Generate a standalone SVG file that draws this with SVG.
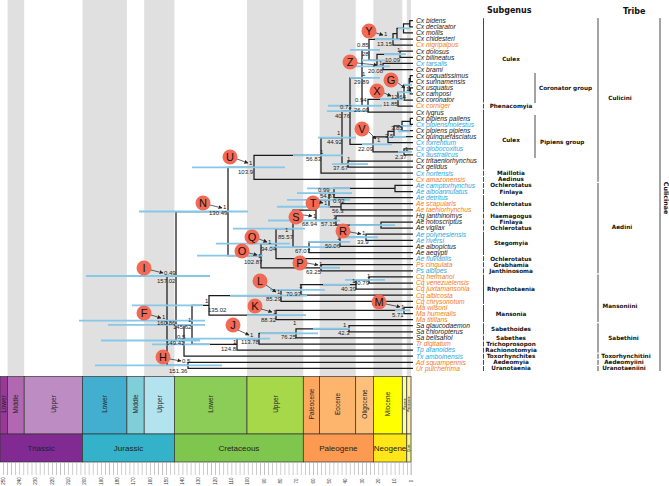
<svg xmlns="http://www.w3.org/2000/svg" width="669" height="486" viewBox="0 0 669 486">
<defs>
<style>
.tip{font-family:"Liberation Sans",Arial,sans-serif;font-style:italic;font-size:6.7px}
.k{fill:#1a1a1a}.o{fill:#F47D20}.b{fill:#2AA9DF}
.nl{font-family:"Liberation Sans",Arial,sans-serif;font-size:6px;fill:#1a1a1a}
.br{stroke:#1a1a1a;stroke-width:1.25;fill:none}
.hpd{stroke:#86C8E8;stroke-width:1.8;fill:none}
.sg{font-family:"DejaVu Sans",sans-serif;font-weight:bold;font-size:5.7px;fill:#111;text-anchor:middle}
.sgl{font-family:"DejaVu Sans",sans-serif;font-weight:bold;font-size:5.7px;fill:#111}
.hd{font-family:"DejaVu Sans",sans-serif;font-weight:bold;font-size:8px;fill:#111}
.bk{stroke:#333;stroke-width:0.9;fill:none}
.circ{fill:#F26A55}
.cl{font-family:"Liberation Sans",Arial,sans-serif;font-size:11px;fill:#111;text-anchor:middle}
.arr{stroke:#222;stroke-width:0.7;fill:none}
.ep{font-family:"Liberation Sans",Arial,sans-serif;font-size:6.5px;fill:#222;text-anchor:middle}
.pe{font-family:"Liberation Sans",Arial,sans-serif;font-size:8px;fill:#222;text-anchor:middle}
.cell{stroke:#333;stroke-width:0.7}
.tl{font-family:"Liberation Sans",Arial,sans-serif;font-size:4.5px;fill:#333;text-anchor:middle}
</style>
<marker id="ah" markerWidth="4" markerHeight="4" refX="3.5" refY="2" orient="auto" markerUnits="userSpaceOnUse"><path d="M0,0 L4,2 L0,4 z" fill="#222"/></marker>
<pattern id="tk" x="411" y="0" width="4.08" height="20" patternUnits="userSpaceOnUse"><rect x="0" y="0" width="0.6" height="20" fill="#aaa"/></pattern>
</defs>
<rect width="669" height="486" fill="#fff"/>
<g id="stripes" fill="#E0E0E0">
<rect x="7.6" y="0" width="16.6" height="376.5"/>
<rect x="82.5" y="0" width="44.4" height="376.5"/>
<rect x="144.2" y="0" width="30.2" height="376.5"/>
<rect x="247" y="0" width="56.3" height="376.5"/>
<rect x="319.6" y="0" width="36.1" height="376.5"/>
<rect x="373.4" y="0" width="28.9" height="376.5"/>
<rect x="406.8" y="0" width="4.2" height="376.5"/>
</g>
<g id="connectors" class="br">
<path d="M413 20.7H409.8V26.8H413"/>
<path d="M409.8 23.75H403.5V32.9H413"/>
<path d="M403.5 28.33H397V39H413"/>
<path d="M397 33.66H393V45.1H413"/>
<path d="M413 51.2H400V57.3H413"/>
<path d="M413 63.4H383V69.5H413"/>
<path d="M400 54.25H377V66.45H383"/>
<path d="M393 39.38H369V60.35H377"/>
<path d="M413 75.6H410.3V81.7H413"/>
<path d="M413 87.8H410.3V93.9H413"/>
<path d="M410.3 78.65H409.2V90.85H410.3"/>
<path d="M409.2 84.75H404V100H413"/>
<path d="M404 92.4H398V106.1H413"/>
<path d="M398 99.25H368V112.2H413"/>
<path d="M369 49.87H362V105.73H368"/>
<path d="M413 118.3H410.3V124.4H413"/>
<path d="M410.3 121.35H402V130.5H413"/>
<path d="M402 125.93H394V136.6H413"/>
<path d="M394 131.26H388V142.7H413"/>
<path d="M413 148.8H404V154.9H413"/>
<path d="M388 136.98H373V151.85H404"/>
<path d="M362 77.8H350V144.42H373"/>
<path d="M413 161H348V167.1H413"/>
<path d="M350 111.11H342V164.05H348"/>
<path d="M342 137.58H321V173.2H413"/>
<path d="M321 155.39H254V179.3H413"/>
<path d="M413 185.4H395V191.5H413"/>
<path d="M395 188.45H334V197.6H413"/>
<path d="M413 203.7H341V209.8H413"/>
<path d="M334 193.03H329V206.75H341"/>
<path d="M413 222H381V228.1H413"/>
<path d="M413 215.9H336V225.05H381"/>
<path d="M329 199.89H316V220.48H336"/>
<path d="M413 234.2H366V240.3H413"/>
<path d="M366 237.25H340V246.4H413"/>
<path d="M340 241.83H309V252.5H413"/>
<path d="M316 210.18H293V247.16H309"/>
<path d="M293 228.67H276V258.6H413"/>
<path d="M413 264.7H321V270.8H413"/>
<path d="M276 243.64H261V267.75H321"/>
<path d="M254 167.35H228V255.7H261"/>
<path d="M413 276.9H369V283H413"/>
<path d="M369 279.95H356V289.1H413"/>
<path d="M356 284.53H301V295.2H413"/>
<path d="M301 289.86H281V301.3H413"/>
<path d="M413 307.4H404V313.5H413"/>
<path d="M404 310.45H276V319.6H413"/>
<path d="M281 295.58H209V315.03H276"/>
<path d="M413 325.7H349V331.8H413"/>
<path d="M349 328.75H296V337.9H413"/>
<path d="M296 333.33H259V344H413"/>
<path d="M259 338.66H237V350.1H413"/>
<path d="M209 305.3H192V344.38H237"/>
<path d="M192 324.84H184V356.2H413"/>
<path d="M228 211.52H176V340.52H184"/>
<path d="M413 362.3H188V368.4H413"/>
<path d="M176 276.02H167V365.35H188"/>
<path d="M167 320.69H163"/>
</g>
<g id="hpd" class="hpd">
<path d="M398 28.33H410M375 39.38H400M384 54.25H406M350 49.87H380M355 66.45H390M362 60.35H386M350 77.8H380M403 84.75H412M398 92.4H412M380 99.25H404M328 105.73H382M327 111.11H367"/>
<path d="M400 125.93H412M398 131.26H410M388 136.98H406M362 144.42H392M398 151.85H412M318 137.58H356M293 155.39H343M332 164.05H368M192 167.35H285"/>
<path d="M307 188.45H350M297 193.03H352M287 199.89H350M277 206.75H330M139 211.52H248M268 220.48H340M350 225.05H395M233 228.67H305M345 237.25H378M308 241.83H350M216 243.64H290M270 247.16H335M197 255.7H263M320 267.75H340"/>
<path d="M86 276.02H210M345 279.95H385M323 284.53H350M270 289.86H325M230 295.58H307M132 305.3H203M395 310.45H410M247 315.03H306M79 320.69H205M108 324.84H205M313 328.75H350M260 333.33H318M180 338.66H270M101 340.52H200M152 344.38H210M95 365.35H222"/>
</g>
<g id="tips" class="tip">
<text x="416" y="23" class="k">Cx bidens</text>
<text x="416" y="29.1" class="k">Cx declarator</text>
<text x="416" y="35.2" class="k">Cx mollis</text>
<text x="416" y="41.3" class="k">Cx chidesteri</text>
<text x="416" y="47.4" class="o">Cx nigripalpus</text>
<text x="416" y="53.5" class="k">Cx dolosus</text>
<text x="416" y="59.6" class="k">Cx bilineatus</text>
<text x="416" y="65.7" class="b">Cx tarsalis</text>
<text x="416" y="71.8" class="k">Cx brami</text>
<text x="416" y="77.9" class="k">Cx usquatissimus</text>
<text x="416" y="84" class="k">Cx surinamensis</text>
<text x="416" y="90.1" class="k">Cx usquatus</text>
<text x="416" y="96.2" class="k">Cx camposi</text>
<text x="416" y="102.3" class="k">Cx coronator</text>
<text x="416" y="108.4" class="o">Cx corniger</text>
<text x="416" y="114.5" class="k">Cx lygrus</text>
<text x="416" y="120.6" class="k">Cx pipiens pallens</text>
<text x="416" y="126.7" class="b">Cx pipiensmolestus</text>
<text x="416" y="132.8" class="k">Cx pipiens pipiens</text>
<text x="416" y="138.9" class="k">Cx quinquefasciatus</text>
<text x="416" y="145" class="b">Cx torrentium</text>
<text x="416" y="151.1" class="b">Cx globocoxitus</text>
<text x="416" y="157.2" class="b">Cx australicus</text>
<text x="416" y="163.3" class="k">Cx tritaeniorhynchus</text>
<text x="416" y="169.4" class="k">Cx gelidus</text>
<text x="416" y="175.5" class="b">Cx hortensis</text>
<text x="416" y="181.6" class="o">Cx amazonensis</text>
<text x="416" y="187.7" class="b">Ae camptorhynchus</text>
<text x="416" y="193.8" class="b">Ae alboannulatus</text>
<text x="416" y="199.9" class="b">Ae detritus</text>
<text x="416" y="206" class="o">Ae scapularis</text>
<text x="416" y="212.1" class="o">Ae taeniorhynchus</text>
<text x="416" y="218.2" class="k">Hg janthinomys</text>
<text x="416" y="224.3" class="k">Ae notoscriptus</text>
<text x="416" y="230.4" class="k">Ae vigilax</text>
<text x="416" y="236.5" class="b">Ae polynesiensis</text>
<text x="416" y="242.6" class="b">Ae riversi</text>
<text x="416" y="248.7" class="k">Ae albopictus</text>
<text x="416" y="254.8" class="k">Ae aegypti</text>
<text x="416" y="260.9" class="b">Ae fluviatilis</text>
<text x="416" y="267" class="o">Ps cingulata</text>
<text x="416" y="273.1" class="b">Ps albipes</text>
<text x="416" y="279.2" class="o">Cq hermanoi</text>
<text x="416" y="285.3" class="o">Cq venezuelensis</text>
<text x="416" y="291.4" class="o">Cq juxtamansonia</text>
<text x="416" y="297.5" class="o">Cq albicosta</text>
<text x="416" y="303.6" class="o">Cq chrysonotum</text>
<text x="416" y="309.7" class="o">Ma wilsoni</text>
<text x="416" y="315.8" class="o">Ma humeralis</text>
<text x="416" y="321.9" class="o">Ma titillans</text>
<text x="416" y="328" class="k">Sa glaucodaemon</text>
<text x="416" y="334.1" class="k">Sa chloropterus</text>
<text x="416" y="340.2" class="k">Sa bellsariol</text>
<text x="416" y="346.3" class="o">Tr digitatum</text>
<text x="416" y="352.4" class="b">Tp aranoides</text>
<text x="416" y="358.5" class="b">Tx amboinensis</text>
<text x="416" y="364.6" class="o">Ad squampennis</text>
<text x="416" y="370.7" class="o">Ur pulcherrima</text>
</g>
<g id="nodelabels" class="nl">
<text x="384" y="36">1</text><text x="377" y="45.5">13.15</text>
<text x="357" y="47">0.85</text><text x="362" y="55.5">28</text>
<text x="397" y="52">1</text><text x="385" y="61.5">10.09</text>
<text x="379" y="65">1</text><text x="368" y="72.5">20.08</text>
<text x="362" y="75.5">1</text><text x="354" y="84">29.89</text>
<text x="406" y="91">1</text><text x="391" y="98.5">12.64</text>
<text x="355" y="102">0.94</text><text x="383" y="106">11.85</text>
<text x="340" y="109">0.73</text><text x="354" y="111.5">26.09</text><text x="335" y="117.5">40.76</text>
<text x="391" y="130">3.85</text><text x="385" y="137.5">3.5</text>
<text x="337" y="134.5">1</text><text x="327" y="144">44.92</text>
<text x="377" y="142">1</text><text x="358" y="150.5">22.09</text>
<text x="405" y="150.5">1</text><text x="395" y="159">2.37</text>
<text x="320" y="153.5">1</text><text x="306" y="161">56.83</text>
<text x="347" y="161">1</text><text x="333" y="170">37.67</text>
<text x="249" y="165">1</text><text x="238" y="174">103.9</text>
<text x="318" y="192">0.99</text><text x="320" y="198">54.87</text>
<text x="333" y="203">0.92</text><text x="324" y="205">1</text><text x="332" y="213">56.3</text>
<text x="313" y="218">1</text><text x="333" y="219">1</text>
<text x="302" y="226">68.94</text><text x="321" y="226">57.15</text>
<text x="223" y="209">1</text><text x="209" y="215">130.49</text>
<text x="362" y="235">1</text><text x="357" y="244">33.9</text>
<text x="337" y="240">1</text><text x="325" y="248">50.06</text>
<text x="295" y="253">67.07</text>
<text x="285" y="232">1</text><text x="278" y="239">85.57</text>
<text x="268" y="244">1</text><text x="261" y="250.5">94.04</text>
<text x="258" y="257.5">1</text><text x="244" y="263.5">102.87</text>
<text x="319" y="266">1</text><text x="306" y="274">63.25</text>
<text x="367" y="278">1</text><text x="354" y="285">50.79</text>
<text x="352" y="283">1</text><text x="341" y="291">40.39</text>
<text x="299" y="288">1</text><text x="286" y="296">70.97</text>
<text x="277" y="294">1</text><text x="266" y="301">85.29</text>
<text x="401" y="309">1</text><text x="392" y="317">5.71</text>
<text x="205" y="303">1</text><text x="208" y="312">135.02</text>
<text x="273" y="314">1</text><text x="261" y="322">88.32</text>
<text x="343" y="327">1</text><text x="338" y="335">42.3</text>
<text x="293" y="325">1</text><text x="281" y="339">76.25</text>
<text x="250" y="337">1</text><text x="241" y="344">113.78</text>
<text x="233" y="344">1</text><text x="221" y="351">124.8</text>
<text x="164" y="275">0.49</text><text x="157" y="283">157.02</text>
<text x="162" y="319">1</text><text x="157" y="325">160.86</text>
<text x="188" y="322">1</text><text x="173" y="329">145.62</text>
<text x="177" y="339">0.5</text><text x="166" y="345">149.41</text>
<text x="182" y="363">0.5</text><text x="169" y="373">151.36</text>
</g>
<g id="markers">
<g id="mY"><circle class="circ" cx="369" cy="31" r="7.5"/><text class="cl" x="369" y="35">Y</text><path class="arr" d="M376 33L383 35" marker-end="url(#ah)"/></g>
<g id="mZ"><circle class="circ" cx="350" cy="62" r="7.5"/><text class="cl" x="350" y="66">Z</text><path class="arr" d="M357 63L377 65" marker-end="url(#ah)"/></g>
<g id="mG"><circle class="circ" cx="391" cy="80" r="7.5"/><text class="cl" x="391" y="84">G</text><path class="arr" d="M398 83L405 88" marker-end="url(#ah)"/></g>
<g id="mX"><circle class="circ" cx="377" cy="91" r="7.5"/><text class="cl" x="377" y="95">X</text><path class="arr" d="M384 93L391 96" marker-end="url(#ah)"/></g>
<g id="mV"><circle class="circ" cx="362" cy="129" r="7.5"/><text class="cl" x="362" y="133">V</text><path class="arr" d="M369 132L376 139" marker-end="url(#ah)"/></g>
<g id="mU"><circle class="circ" cx="230" cy="157" r="7.5"/><text class="cl" x="230" y="161">U</text><path class="arr" d="M237 159L248 163" marker-end="url(#ah)"/></g>
<g id="mN"><circle class="circ" cx="203" cy="203" r="7.5"/><text class="cl" x="203" y="207">N</text><path class="arr" d="M210 205L222 208" marker-end="url(#ah)"/></g>
<g id="mT"><circle class="circ" cx="313" cy="203" r="7.5"/><text class="cl" x="313" y="207">T</text><path class="arr" d="M319 202L323 203" marker-end="url(#ah)"/></g>
<g id="mS"><circle class="circ" cx="296" cy="217" r="7.5"/><text class="cl" x="296" y="221">S</text><path class="arr" d="M303 215L312 216" marker-end="url(#ah)"/></g>
<g id="mR"><circle class="circ" cx="343" cy="231" r="7.5"/><text class="cl" x="343" y="235">R</text><path class="arr" d="M350 232L361 234" marker-end="url(#ah)"/></g>
<g id="mQ"><circle class="circ" cx="252" cy="237" r="7.5"/><text class="cl" x="252" y="241">Q</text><path class="arr" d="M259 239L267 242" marker-end="url(#ah)"/></g>
<g id="mO"><circle class="circ" cx="242" cy="251" r="7.5"/><text class="cl" x="242" y="255">O</text><path class="arr" d="M249 253L257 255" marker-end="url(#ah)"/></g>
<g id="mP"><circle class="circ" cx="300" cy="263" r="7.5"/><text class="cl" x="300" y="267">P</text><path class="arr" d="M307 263L318 265" marker-end="url(#ah)"/></g>
<g id="mL"><circle class="circ" cx="260" cy="281" r="7.5"/><text class="cl" x="260" y="285">L</text><path class="arr" d="M266 285L276 292" marker-end="url(#ah)"/></g>
<g id="mK"><circle class="circ" cx="255" cy="306" r="7.5"/><text class="cl" x="255" y="310">K</text><path class="arr" d="M261 309L272 312" marker-end="url(#ah)"/></g>
<g id="mJ"><circle class="circ" cx="233" cy="325" r="7.5"/><text class="cl" x="233" y="329">J</text><path class="arr" d="M238 330L249 335" marker-end="url(#ah)"/></g>
<g id="mM"><circle class="circ" cx="379" cy="302" r="7.5"/><text class="cl" x="379" y="306">M</text><path class="arr" d="M386 304L400 307" marker-end="url(#ah)"/></g>
<g id="mI"><circle class="circ" cx="144" cy="268" r="7.5"/><text class="cl" x="144" y="272">I</text><path class="arr" d="M151 270L163 273" marker-end="url(#ah)"/></g>
<g id="mF"><circle class="circ" cx="144" cy="313" r="7.5"/><text class="cl" x="144" y="317">F</text><path class="arr" d="M151 315L161 318" marker-end="url(#ah)"/></g>
<g id="mH"><circle class="circ" cx="163" cy="357" r="7.5"/><text class="cl" x="163" y="361">H</text><path class="arr" d="M170 359L181 361" marker-end="url(#ah)"/></g>
</g>
<g id="subgenus">
<text class="hd" x="487" y="13">Subgenus</text>
<path class="bk" d="M483.5 18.2V102.5M483.5 103.7V108.6M483.5 109.8V169.6M483.5 170.8V175.7M483.5 176.9V181.8M483.5 183V187.9M483.5 189.1V194M483.5 195.2V212.3M483.5 213.5V218.4M483.5 219.6V224.5M483.5 225.7V230.6M483.5 231.8V255M483.5 256.2V261.1M483.5 262.3V267.2M483.5 268.4V273.3M483.5 274.5V303.8M483.5 305V322.1M483.5 323.3V334.3M483.5 335.5V340.4M483.5 341.6V346.5M483.5 347.7V352.6M483.5 353.8V358.7M483.5 359.9V364.8M483.5 366V371"/>
<path class="bk" d="M535 73V103M535 115V158"/>
<text class="sg" x="511" y="61.3">Culex</text>
<text class="sgl" x="539" y="90">Coronator group</text>
<text class="sg" x="511" y="108">Phenacomyia</text>
<text class="sg" x="511" y="141.5">Culex</text>
<text class="sgl" x="540" y="143.5">Pipiens group</text>
<text class="sg" x="511" y="175.2">Maillotia</text>
<text class="sg" x="511" y="181.3">Aedinus</text>
<text class="sg" x="511" y="187.4">Ochlerotatus</text>
<text class="sg" x="511" y="193.5">Finlaya</text>
<text class="sg" x="511" y="205.7">Ochlerotatus</text>
<text class="sg" x="511" y="217.9">Haemagogus</text>
<text class="sg" x="511" y="224">Finlaya</text>
<text class="sg" x="511" y="230.1">Ochlerotatus</text>
<text class="sg" x="511" y="245">Stegomyia</text>
<text class="sg" x="511" y="260.6">Ochlerotatus</text>
<text class="sg" x="511" y="266.7">Grabhamia</text>
<text class="sg" x="511" y="272.8">Janthinosoma</text>
<text class="sg" x="511" y="291.1">Rhynchotaenia</text>
<text class="sg" x="511" y="315.5">Mansonia</text>
<text class="sg" x="511" y="330.8">Sabethoides</text>
<text class="sg" x="511" y="339.9">Sabethes</text>
<text class="sg" x="511" y="346">Trichoprosopon</text>
<text class="sg" x="511" y="352.1">Rachionotomyia</text>
<text class="sg" x="511" y="358.2">Toxorhynchites</text>
<text class="sg" x="511" y="364.3">Aedeomyia</text>
<text class="sg" x="511" y="370.4">Uranotaenia</text>
</g>
<g id="tribe">
<text class="hd" x="623" y="14">Tribe</text>
<path class="bk" d="M598 18V181.8M598 183V273.3M598 274.5V322.1M598 323.3V352.6M598 353.8V358.7M598 359.9V364.8M598 366V371"/>
<text class="sg" x="620" y="100">Culicini</text>
<text class="sg" x="622" y="228.7">Aedini</text>
<text class="sg" x="620" y="307.7">Mansoniini</text>
<text class="sg" x="623.5" y="340">Sabethini</text>
<text class="sg" x="626" y="358.2">Toxorhynchitini</text>
<text class="sg" x="624" y="364.3">Aedeomyiini</text>
<text class="sg" x="624" y="370.4">Uranotaeniini</text>
</g>
<g id="subfamily">
<path class="bk" d="M660 18V371"/>
<text class="sg" style="font-size:6.3px" transform="translate(665.5 198) rotate(90)" dy="2">Culicinae</text>
</g>
<g id="timescale">
<rect class="cell" x="0" y="376.5" width="7.6" height="57.5" fill="#983999"/>
<rect class="cell" x="7.6" y="376.5" width="16.6" height="57.5" fill="#B168B1"/>
<rect class="cell" x="24.2" y="376.5" width="58.3" height="57.5" fill="#BD8CC3"/>
<rect class="cell" x="82.5" y="376.5" width="44.4" height="57.5" fill="#42AED0"/>
<rect class="cell" x="126.9" y="376.5" width="17.3" height="57.5" fill="#80CFD8"/>
<rect class="cell" x="144.2" y="376.5" width="30.2" height="57.5" fill="#B3E3EE"/>
<rect class="cell" x="174.4" y="376.5" width="72.6" height="57.5" fill="#8CCD57"/>
<rect class="cell" x="247" y="376.5" width="56.3" height="57.5" fill="#A6D84A"/>
<rect class="cell" x="303.3" y="376.5" width="16.3" height="57.5" fill="#FDA75F"/>
<rect class="cell" x="319.6" y="376.5" width="36.1" height="57.5" fill="#FDB46C"/>
<rect class="cell" x="355.7" y="376.5" width="17.7" height="57.5" fill="#FDC07A"/>
<rect class="cell" x="373.4" y="376.5" width="28.9" height="57.5" fill="#FFFF00"/>
<rect class="cell" x="402.3" y="376.5" width="4.5" height="57.5" fill="#FFFF99"/>
<rect class="cell" x="406.8" y="376.5" width="4.2" height="57.5" fill="#FFF2AE"/>
<rect class="cell" x="0" y="434" width="82.5" height="28" fill="#812B92"/>
<rect class="cell" x="82.5" y="434" width="91.9" height="28" fill="#34B2C9"/>
<rect class="cell" x="174.4" y="434" width="128.9" height="28" fill="#7FC64E"/>
<rect class="cell" x="303.3" y="434" width="70.1" height="28" fill="#FD9A52"/>
<rect class="cell" x="373.4" y="434" width="33.4" height="28" fill="#FFE619"/>
<rect class="cell" x="406.8" y="434" width="4.2" height="28" fill="#F9F97F"/>
<text class="ep" transform="translate(3.8 404) rotate(-90)" dy="2.3">Lower</text>
<text class="ep" transform="translate(15.9 404) rotate(-90)" dy="2.3">Middle</text>
<text class="ep" transform="translate(53.4 404) rotate(-90)" dy="2.3">Upper</text>
<text class="ep" transform="translate(104.7 404) rotate(-90)" dy="2.3">Lower</text>
<text class="ep" transform="translate(135.6 404) rotate(-90)" dy="2.3">Middle</text>
<text class="ep" transform="translate(159.3 404) rotate(-90)" dy="2.3">Upper</text>
<text class="ep" transform="translate(210.7 404) rotate(-90)" dy="2.3">Lower</text>
<text class="ep" transform="translate(275.2 404) rotate(-90)" dy="2.3">Upper</text>
<text class="ep" transform="translate(311.5 404) rotate(-90)" dy="2.3">Paleocene</text>
<text class="ep" transform="translate(337.7 404) rotate(-90)" dy="2.3">Eocene</text>
<text class="ep" transform="translate(364.6 404) rotate(-90)" dy="2.3">Oligocene</text>
<text class="ep" transform="translate(387.9 404) rotate(-90)" dy="2.3">Miocene</text>
<text class="ep" style="font-size:3px" transform="translate(404.6 404) rotate(-90)" dy="1">Pliocene</text>
<text class="ep" style="font-size:3px" transform="translate(408.9 404) rotate(-90)" dy="1">Pleistocene</text>
<text class="pe" x="41.2" y="451">Triassic</text>
<text class="pe" x="128.5" y="451">Jurassic</text>
<text class="pe" x="238.9" y="451">Cretaceous</text>
<text class="pe" x="338.4" y="451">Paleogene</text>
<text class="pe" x="390.1" y="451">Neogene</text>
<text class="ep" style="font-size:3.5px" transform="translate(408.9 448) rotate(-90)" dy="1.2">Quat.</text>
<rect x="0" y="463" width="411.5" height="12" fill="url(#tk)"/>
<path d="M411 376.5V475" stroke="#999" stroke-width="0.6"/>
</g>
<g id="axis" class="tl">
<text transform="translate(3 481) rotate(-90)" dy="1.6">250</text>
<text transform="translate(19.3 481) rotate(-90)" dy="1.6">240</text>
<text transform="translate(35.6 481) rotate(-90)" dy="1.6">230</text>
<text transform="translate(52 481) rotate(-90)" dy="1.6">220</text>
<text transform="translate(68.3 481) rotate(-90)" dy="1.6">210</text>
<text transform="translate(84.6 481) rotate(-90)" dy="1.6">200</text>
<text transform="translate(100.9 481) rotate(-90)" dy="1.6">190</text>
<text transform="translate(117.2 481) rotate(-90)" dy="1.6">180</text>
<text transform="translate(133.6 481) rotate(-90)" dy="1.6">170</text>
<text transform="translate(149.9 481) rotate(-90)" dy="1.6">160</text>
<text transform="translate(166.2 481) rotate(-90)" dy="1.6">150</text>
<text transform="translate(182.5 481) rotate(-90)" dy="1.6">140</text>
<text transform="translate(198.8 481) rotate(-90)" dy="1.6">130</text>
<text transform="translate(215.2 481) rotate(-90)" dy="1.6">120</text>
<text transform="translate(231.5 481) rotate(-90)" dy="1.6">110</text>
<text transform="translate(247.8 481) rotate(-90)" dy="1.6">100</text>
<text transform="translate(264.1 481) rotate(-90)" dy="1.6">90</text>
<text transform="translate(280.4 481) rotate(-90)" dy="1.6">80</text>
<text transform="translate(296.8 481) rotate(-90)" dy="1.6">70</text>
<text transform="translate(313.1 481) rotate(-90)" dy="1.6">60</text>
<text transform="translate(329.4 481) rotate(-90)" dy="1.6">50</text>
<text transform="translate(345.7 481) rotate(-90)" dy="1.6">40</text>
<text transform="translate(362 481) rotate(-90)" dy="1.6">30</text>
<text transform="translate(378.4 481) rotate(-90)" dy="1.6">20</text>
<text transform="translate(394.7 481) rotate(-90)" dy="1.6">10</text>
<text transform="translate(411 481) rotate(-90)" dy="1.6">0</text>
</g>
</svg>
